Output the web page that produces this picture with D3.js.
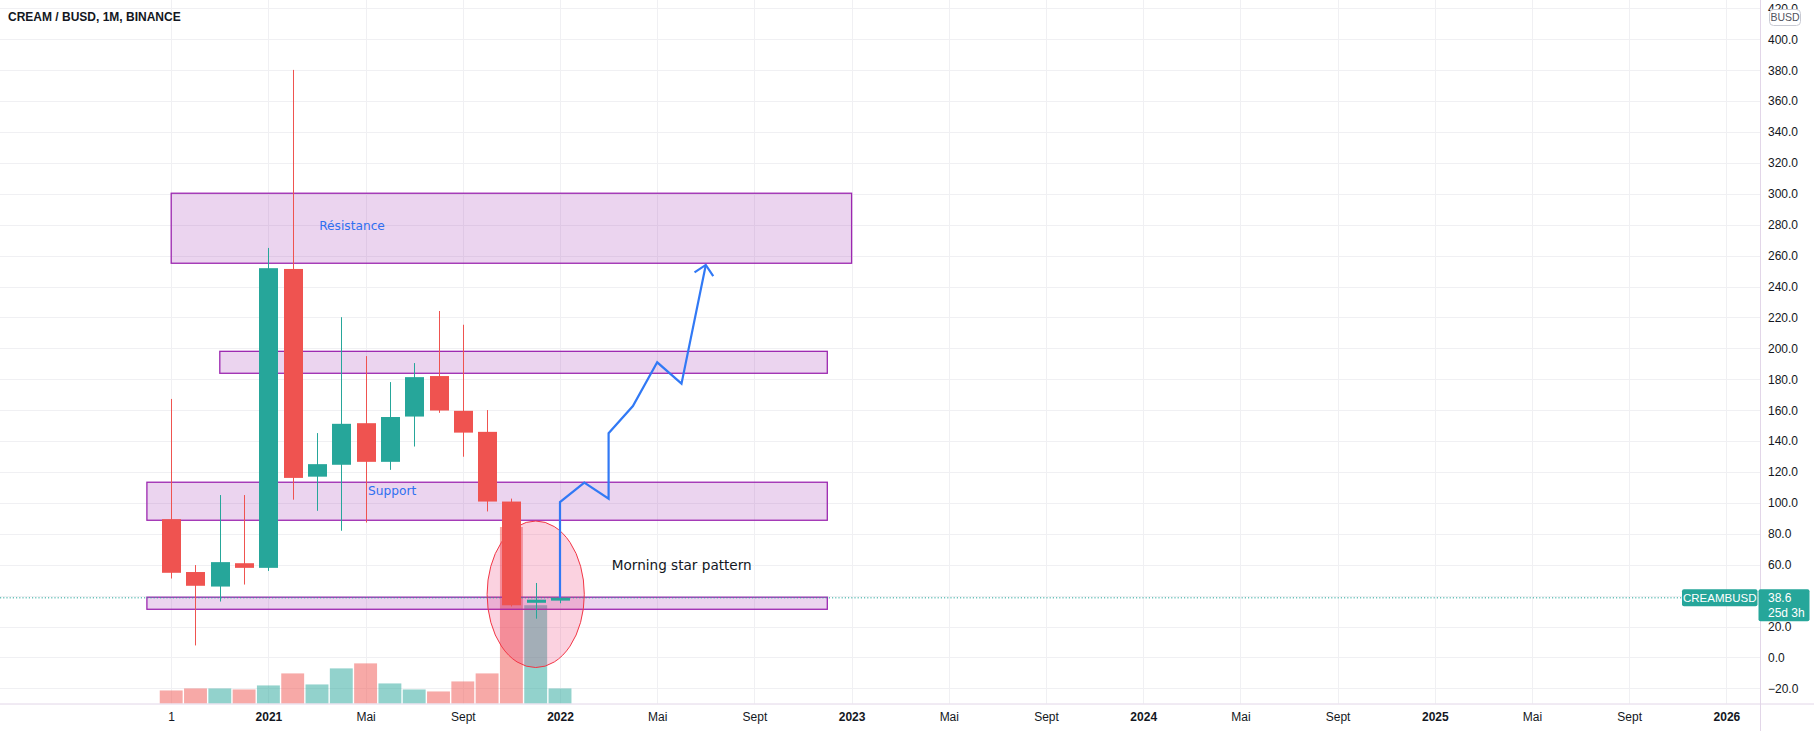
<!DOCTYPE html>
<html><head><meta charset="utf-8">
<script src="https://cdn.jsdelivr.net/npm/d3@7"></script>
<style>
body{margin:0;background:#fff;}
svg{display:block;font-family:"Liberation Sans",Arial,sans-serif;}
</style>
</head><body>
<svg id="c" width="1814" height="731"></svg>
<script>
// ---------- data ----------
const months = ["2020-09","2020-10","2020-11","2020-12","2021-01","2021-02","2021-03","2021-04","2021-05","2021-06","2021-07","2021-08","2021-09","2021-10","2021-11","2021-12","2022-01"];
const open   = [89.5, 55.3, 45.9, 61.0, 58.0, 251.4, 117.0, 124.7, 151.6, 126.6, 155.9, 182.1, 159.6, 146.0, 100.9, 35.4, 36.8];
const high   = [167.3, 59.8, 105.1, 105.1, 265.0, 380.2, 145.2, 220.2, 195.0, 178.2, 190.5, 224.2, 215.3, 160.1, 102.8, 48.2, 39.8];
const low    = [51.1, 7.8, 36.2, 47.2, 56.0, 102.1, 94.9, 82.0, 87.3, 121.4, 136.5, 158.3, 129.9, 94.5, 33.0, 25.1, 35.1];
const close  = [54.8, 46.4, 61.7, 58.0, 251.9, 116.2, 125.1, 151.2, 126.6, 155.6, 181.4, 159.8, 145.5, 100.9, 33.8, 37.4, 38.6];
const volume = [130, 150, 150, 140, 180, 300, 190, 350, 400, 200, 140, 120, 220, 300, 1760, 980, 150];

const xTickIdx    = [0,4,8,12,16,20,24,28,32,36,40,44,48,52,56,60,64];
const xTickLabels = ["1","2021","Mai","Sept","2022","Mai","Sept","2023","Mai","Sept","2024","Mai","Sept","2025","Mai","Sept","2026"];
const yTicks = d3.range(-20, 421, 20);

// annotation zones (month index from 2020-09, price)
const boxStart  = [0, 2, -1, -1];
const boxEnd    = [28, 27, 27, 27];
const boxTop    = [300.4, 198.1, 113.4, 39.0];
const boxBottom = [255.1, 183.9, 88.8, 31.2];

// projected path
const pathMonths = [16, 16, 17, 18, 18, 19, 20, 21, 22];
const pathValues = [38.7, 100.6, 113.1, 102.8, 145.1, 162.7, 191.0, 177.2, 254.0];

// morning star ellipse
const ellipseMonth = 15.0, ellipseValue = 40.9, ellipseHalfMonths = 2.0, ellipseHalfValue = 47.4;

// texts
const noteTexts  = ["Résistance", "Support", "Morning star pattern"];
const noteMonths = [6.09, 8.1, 18.13];
const noteValues = [279.2, 108.0, 59.8];

const title = "CREAM / BUSD, 1M, BINANCE";
const symbol = "CREAMBUSD";
const countdown = "25d 3h";
const currency = "BUSD";

// ---------- layout ----------
const W = 1814, H = 731;
const plotRight = 1760, plotBottom = 703.5;
const UP = "#26a69a", DOWN = "#ef5350";

const x = d3.scaleLinear().domain([0, 64]).range([171.2, 1726.4]);
const y = d3.scaleLinear().domain([-20, 400]).range([688.4, 39.3]);
const yVol = d3.scaleLinear().domain([0, d3.max(volume)]).range([plotBottom, 527]);
const step = x(1) - x(0);

const svg = d3.select("#c");
const plot = svg.append("g");

// grid
plot.append("g").selectAll("line").data(yTicks).join("line")
  .attr("x1", 0).attr("x2", plotRight)
  .attr("y1", d => Math.round(y(d)) + 0.5).attr("y2", d => Math.round(y(d)) + 0.5)
  .attr("stroke", "#f0f0f3");
plot.append("g").selectAll("line").data(xTickIdx).join("line")
  .attr("x1", d => Math.round(x(d)) + 0.5).attr("x2", d => Math.round(x(d)) + 0.5)
  .attr("y1", 0).attr("y2", plotBottom)
  .attr("stroke", "#f0f0f3");

// volume
plot.append("g").selectAll("rect").data(volume).join("rect")
  .attr("x", (d, i) => x(i) - step / 2 + 0.7)
  .attr("width", step - 1.4)
  .attr("y", d => yVol(d))
  .attr("height", d => plotBottom - yVol(d))
  .attr("fill", (d, i) => close[i] >= open[i] ? "rgba(38,166,154,0.5)" : "rgba(239,83,80,0.5)");

// boxes
plot.append("g").selectAll("rect").data(boxStart).join("rect")
  .attr("x", (d, i) => x(boxStart[i]))
  .attr("width", (d, i) => x(boxEnd[i]) - x(boxStart[i]))
  .attr("y", (d, i) => y(boxTop[i]))
  .attr("height", (d, i) => y(boxBottom[i]) - y(boxTop[i]))
  .attr("fill", "rgba(156,39,176,0.2)")
  .attr("stroke", "#9c27b0").attr("stroke-width", 1.3);

// ellipse
plot.append("ellipse")
  .attr("cx", x(ellipseMonth)).attr("cy", y(ellipseValue))
  .attr("rx", x(ellipseMonth + ellipseHalfMonths) - x(ellipseMonth))
  .attr("ry", y(ellipseValue - ellipseHalfValue) - y(ellipseValue))
  .attr("fill", "rgba(233,30,99,0.2)")
  .attr("stroke", "#f23645").attr("stroke-width", 1);

// price line
plot.append("line")
  .attr("x1", 0).attr("x2", 1682)
  .attr("y1", y(close[close.length - 1])).attr("y2", y(close[close.length - 1]))
  .attr("stroke", UP).attr("stroke-width", 1).attr("stroke-dasharray", "1.2,2");

// candles
const bodyW = 19;
const cg = plot.append("g");
cg.selectAll("line").data(months).join("line")
  .attr("x1", (d, i) => Math.round(x(i)) + 0.5).attr("x2", (d, i) => Math.round(x(i)) + 0.5)
  .attr("y1", (d, i) => y(high[i])).attr("y2", (d, i) => y(low[i]))
  .attr("stroke", (d, i) => close[i] >= open[i] ? UP : DOWN).attr("stroke-width", 1);
cg.selectAll("rect").data(months).join("rect")
  .attr("x", (d, i) => Math.round(x(i)) + 0.5 - bodyW / 2)
  .attr("width", bodyW)
  .attr("y", (d, i) => y(Math.max(open[i], close[i])))
  .attr("height", (d, i) => Math.max(1.5, Math.abs(y(open[i]) - y(close[i]))))
  .attr("fill", (d, i) => close[i] >= open[i] ? UP : DOWN);

// projected path
const pts = pathMonths.map((m, i) => [x(m), y(pathValues[i])]);
plot.append("path")
  .attr("d", d3.line()(pts))
  .attr("fill", "none").attr("stroke", "#3179f5").attr("stroke-width", 2.2)
  .attr("stroke-linejoin", "miter");
{
  const [tx, ty] = pts[pts.length - 1], [px, py] = pts[pts.length - 2];
  const ang = Math.atan2(py - ty, px - tx), L = 13.5, a = Math.PI / 4;
  const p1 = [tx + L * Math.cos(ang + a), ty + L * Math.sin(ang + a)];
  const p2 = [tx + L * Math.cos(ang - a), ty + L * Math.sin(ang - a)];
  plot.append("path").attr("d", d3.line()([p1, [tx, ty], p2]))
    .attr("fill", "none").attr("stroke", "#3179f5").attr("stroke-width", 2.2);
}

// notes
plot.append("g").selectAll("text").data(noteTexts).join("text")
  .attr("x", (d, i) => x(noteMonths[i]))
  .attr("y", (d, i) => y(noteValues[i]))
  .attr("dy", "0.35em")
  .attr("font-family", "'DejaVu Sans', sans-serif")
  .attr("font-size", (d, i) => i === 2 ? 13.6 : 12.2)
  .attr("fill", (d, i) => i === 2 ? "#131722" : "#2f6ff0")
  .text(d => d);

// title
svg.append("text").attr("x", 8).attr("y", 21)
  .attr("font-size", 12).attr("font-weight", "bold").attr("fill", "#131722")
  .text(title);

// axis borders
svg.append("rect").attr("x", plotRight).attr("y", 0).attr("width", W - plotRight).attr("height", H).attr("fill", "#fff");
svg.append("rect").attr("x", 0).attr("y", plotBottom + 0.5).attr("width", plotRight).attr("height", H - plotBottom).attr("fill", "#fff");
svg.append("line").attr("x1", plotRight + 0.5).attr("x2", plotRight + 0.5).attr("y1", 0).attr("y2", H)
  .attr("stroke", "#e2d6e8");
svg.append("line").attr("x1", 0).attr("x2", W).attr("y1", plotBottom + 0.5).attr("y2", plotBottom + 0.5)
  .attr("stroke", "#e2d6e8");

// y axis
const yAxis = svg.append("g").attr("transform", `translate(${plotRight},0)`)
  .call(d3.axisRight(y).tickValues(yTicks).tickFormat(d3.format(".1f")).tickSize(0).tickPadding(8));
yAxis.select(".domain").remove();
yAxis.selectAll("text").attr("font-size", 12).attr("fill", "#131722")
  .attr("font-family", "'Liberation Sans', Arial, sans-serif");

// x axis
const xAxis = svg.append("g").attr("transform", `translate(0,${plotBottom})`)
  .call(d3.axisBottom(x).tickValues(xTickIdx).tickFormat((d, i) => xTickLabels[i]).tickSize(0));
xAxis.select(".domain").remove();
xAxis.selectAll("text")
  .attr("y", 13.5).attr("dy", "0.35em")
  .attr("font-size", 12).attr("fill", "#131722")
  .attr("font-family", "'Liberation Sans', Arial, sans-serif")
  .attr("font-weight", (d, i) => /^\d{4}$/.test(xTickLabels[i]) ? "bold" : "normal");

// currency badge
svg.append("rect").attr("x", 1769.5).attr("y", 9.5).attr("width", 31).attr("height", 16).attr("rx", 4)
  .attr("fill", "#fff").attr("stroke", "#c8cad3");
svg.append("text").attr("x", 1785).attr("y", 17.5).attr("dy", "0.35em").attr("text-anchor", "middle")
  .attr("font-size", 10.5).attr("fill", "#50535e").text(currency);

// price tags
const py = y(close[close.length - 1]);
svg.append("rect").attr("x", 1682).attr("y", py - 8.5).attr("width", 75.5).attr("height", 17).attr("rx", 2).attr("fill", UP);
svg.append("text").attr("x", 1719.7).attr("y", py).attr("dy", "0.35em").attr("text-anchor", "middle")
  .attr("font-size", 11.5).attr("fill", "#fff").text(symbol);
svg.append("rect").attr("x", 1758.5).attr("y", py - 8.5).attr("width", 51).attr("height", 32).attr("rx", 2).attr("fill", UP);
svg.append("text").attr("x", 1768).attr("y", py).attr("dy", "0.35em")
  .attr("font-size", 12).attr("fill", "#fff").text(d3.format(".1f")(close[close.length - 1]));
svg.append("text").attr("x", 1768).attr("y", py + 15).attr("dy", "0.35em")
  .attr("font-size", 12).attr("fill", "#fff").text(countdown);
</script>
</body></html>
